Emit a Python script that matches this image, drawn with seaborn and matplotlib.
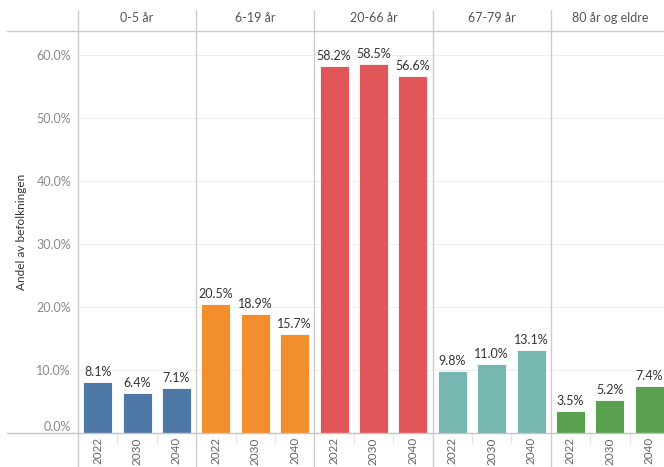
import numpy as np
import pandas as pd
import matplotlib
matplotlib.use("Agg")
import matplotlib.pyplot as plt
import matplotlib.transforms as mtransforms
import seaborn as sns

groups = ["0-5 år", "6-19 år", "20-66 år", "67-79 år", "80 år og eldre"]
years = ["2022", "2030", "2040"]
v_0_5 = [8.1, 6.4, 7.1]
v_6_19 = [20.5, 18.9, 15.7]
v_20_66 = [58.2, 58.5, 56.6]
v_67_79 = [9.8, 11.0, 13.1]
v_80 = [3.5, 5.2, 7.4]
colors = ["#4E79A7", "#F28E2B", "#E15759", "#76B7B2", "#59A14F"]
yticks = [0.0, 0.1, 0.2, 0.3, 0.4, 0.5, 0.6]

rows = []
for g, vals in zip(groups, [v_0_5, v_6_19, v_20_66, v_67_79, v_80]):
    for y, v in zip(years, vals):
        rows.append({"group": g, "year": y, "key": f"{g}|{y}", "value": v / 100})
df = pd.DataFrame(rows)

sns.set_style("white")
plt.rcParams["font.family"] = ["Lato", "DejaVu Sans"]

W, H = 664, 467
fig = plt.figure(figsize=(W / 100, H / 100), dpi=100)
left_px, right_px, top_px, base_px = 78, 669, 31, 433
ax = fig.add_axes([left_px / W, (H - base_px) / H, (right_px - left_px) / W, (base_px - top_px) / H])

sns.barplot(data=df, x="key", y="value", hue="group", palette=colors, dodge=False,
            width=0.74, saturation=1, ax=ax, legend=False, edgecolor="white", linewidth=0.6)

for c in ax.containers:
    ax.bar_label(c, fmt=lambda x: f"{x*100:.1f}%", padding=3, fontsize=9, color="#333333")

ax.set_ylim(0, 0.638)
ax.set_xlim(-0.5, 14.5)
for s in ax.spines.values():
    s.set_visible(False)

ax.set_yticks(yticks)
ax.set_yticklabels([f"{t*100:.1f}%" for t in yticks], fontsize=9, color="#8a8a8a")
ax.tick_params(axis="y", length=0, pad=5)
ax.yaxis.get_major_ticks()[0].label1.set_verticalalignment("bottom")

ax.set_xticks(range(15))
ax.set_xticklabels(years * 5, rotation=90, fontsize=8.5, color="#666666")
ax.tick_params(axis="x", length=0, pad=3)
ax.set_xlabel("")
ax.set_ylabel("")

ax.yaxis.grid(True, color="#eeeeee", linewidth=0.8)
ax.set_axisbelow(True)

ppy = 1.0 / (base_px - top_px)
y_top = 1 + (top_px - 10) * ppy
y_bot = -(H - base_px) * ppy
trans = mtransforms.blended_transform_factory(ax.transData, ax.transAxes)
line_col = "#cccccc"
for xb in [-0.5, 2.5, 5.5, 8.5, 11.5, 14.5]:
    ax.plot([xb, xb], [y_bot, y_top], transform=trans, color=line_col, lw=1, clip_on=False, zorder=5)
for xb in [0.5, 1.5, 3.5, 4.5, 6.5, 7.5, 9.5, 10.5, 12.5, 13.5]:
    ax.plot([xb, xb], [0, -10 * ppy], transform=trans, color="#e6e6e6", lw=1, clip_on=False)
x_ax_left = (7 - left_px) / (right_px - left_px)
ax.plot([x_ax_left, 1], [1, 1], transform=ax.transAxes, color=line_col, lw=1, clip_on=False)
ax.plot([x_ax_left, 1], [0, 0], transform=ax.transAxes, color="#c4c4c4", lw=1, clip_on=False, zorder=6)

for i, g in enumerate(groups):
    ax.text(i * 3 + 1, 1 + (top_px - 18) * ppy, g, transform=trans,
            ha="center", va="center", fontsize=9, color="#555555")

fig.text(22 / W, 1 - 232 / H, "Andel av befolkningen", rotation=90, ha="center", va="center",
         fontsize=8.5, color="#333333")

fig.savefig("out.png", dpi=100)
